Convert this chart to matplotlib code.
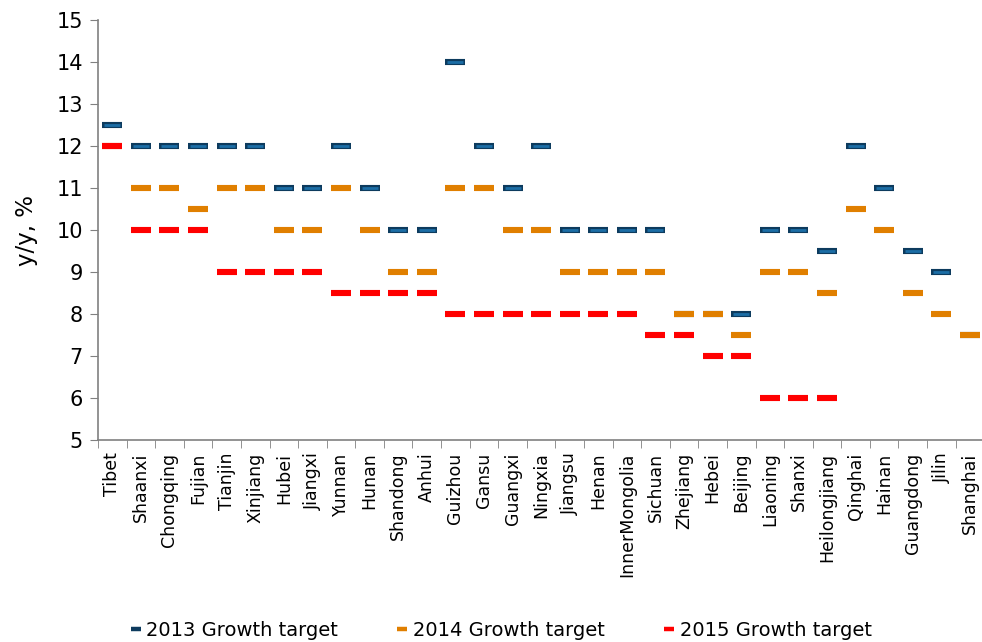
import numpy as np
import matplotlib.pyplot as plt
from matplotlib.lines import Line2D

provinces = ['Tibet', 'Shaanxi', 'Chongqing', 'Fujian', 'Tianjin', 'Xinjiang', 'Hubei',
             'Jiangxi', 'Yunnan', 'Hunan', 'Shandong', 'Anhui', 'Guizhou', 'Gansu',
             'Guangxi', 'Ningxia', 'Jiangsu', 'Henan', 'InnerMongolia', 'Sichuan',
             'Zhejiang', 'Hebei', 'Beijing', 'Liaoning', 'Shanxi', 'Heilongjiang',
             'Qinghai', 'Hainan', 'Guangdong', 'Jilin', 'Shanghai']

nan = np.nan
target_2013 = [12.5, 12, 12, 12, 12, 12, 11, 11, 12, 11, 10, 10, 14, 12, 11, 12,
               10, 10, 10, 10, 8, 8, 8, 10, 10, 9.5, 12, 11, 9.5, 9, 7.5]
target_2014 = [12, 11, 11, 10.5, 11, 11, 10, 10, 11, 10, 9, 9, 11, 11, 10, 10,
               9, 9, 9, 9, 8, 8, 7.5, 9, 9, 8.5, 10.5, 10, 8.5, 8, 7.5]
target_2015 = [12, 10, 10, 10, 9, 9, 9, 9, 8.5, 8.5, 8.5, 8.5, 8, 8, 8, 8,
               8, 8, 8, 7.5, 7.5, 7, 7, 6, 6, 6, nan, nan, nan, nan, nan]

blue_edge, blue = '#0d3b5e', '#1c6ea6'
orange, red = '#e07f00', '#ff0000'

fig = plt.figure(figsize=(9.82, 6.42), dpi=100)
ax = fig.add_axes([0.0998, 0.3146, 0.9025, 0.6542])

x = np.arange(len(provinces))
# 2013: dark outline then lighter fill
ax.plot(x, target_2013, ls='none', marker='_', ms=14, mew=4.4, color=blue_edge, zorder=3)
ax.plot(x, target_2013, ls='none', marker='_', ms=12.2, mew=2.0, color=blue, zorder=3.5)
ax.plot(x, target_2014, ls='none', marker='_', ms=14, mew=4.4, color=orange, zorder=4)
ax.plot(x, target_2015, ls='none', marker='_', ms=14, mew=4.4, color=red, zorder=5)

ax.set_xlim(-0.5, len(provinces) - 0.5)
ax.set_ylim(5, 15)
ax.set_yticks(range(5, 16))
ax.tick_params(axis='y', labelsize=15, length=6, color='#808080', direction='out', pad=5)
ax.set_xticks(x)
ax.set_xticklabels(provinces, rotation=90, fontsize=12.5)
ax.set_xticks(np.arange(-0.5, len(provinces), 1), minor=True)
ax.tick_params(axis='x', which='major', length=0, pad=9)
ax.tick_params(axis='x', which='minor', length=6, color='#808080')
ax.set_ylabel('y/y, %', fontsize=16.5, labelpad=13)

for s in ['top', 'right']:
    ax.spines[s].set_visible(False)
for s in ['left', 'bottom']:
    ax.spines[s].set_color('#808080')
    ax.spines[s].set_linewidth(1.2)

handles = [
    Line2D([], [], ls='none', marker='_', ms=7, mew=3.2, color=blue_edge),
    Line2D([], [], ls='none', marker='_', ms=7, mew=3.2, color=orange),
    Line2D([], [], ls='none', marker='_', ms=7, mew=3.2, color=red),
]
fig.legend(handles, ['2013 Growth target', '2014 Growth target', '2015 Growth target'],
           loc='center', bbox_to_anchor=(0.51, 0.018), ncol=3, frameon=False,
           fontsize=14, handlelength=0.6, handletextpad=0.25, columnspacing=3.0)

fig.savefig('out.png', dpi=100)
